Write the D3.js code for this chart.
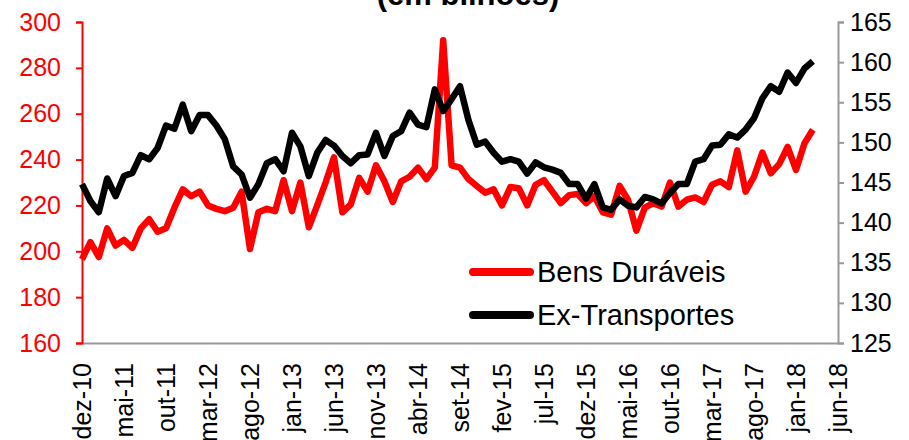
<!DOCTYPE html>
<html>
<head>
<meta charset="utf-8">
<script src="https://cdn.jsdelivr.net/npm/d3@7"></script>
<style>
  body { margin: 0; background: #fff; }
  svg { display: block; font-family: Arial, "Liberation Sans", sans-serif; }
</style>
</head>
<body>
<svg id="chart" width="909" height="440"></svg>
<script>
// monthly series, dez-10 .. mar-18
const bensDuraveis = [
  196.5, 204, 197.5, 210, 202.5, 205, 201.5, 210, 214, 208.5, 210, 219,
  227, 224, 226, 220, 218.5, 217.5, 219, 226, 201, 217, 218.5, 217.5,
  231, 217.5, 230, 210.5, 220, 230, 241, 217, 220.5, 232, 226, 237.5,
  230.5, 221.5, 230.5, 232.5, 236.5, 231.5, 236.5, 292, 237.5, 236.5, 231.5, 228.5,
  225.5, 227, 220, 228, 227.5, 220, 229, 231, 226, 221, 224.5, 225,
  221, 224, 217, 216, 228.5, 222.5, 209, 219, 221, 219.5, 230, 219.5,
  222.5, 223.5, 221.5, 229, 230.5, 228, 244, 226, 232.5, 243, 234, 238,
  245.5, 235.5, 247, 253
];
const exTransportes = [
  144.8, 142.7, 141.3, 145.5, 143.3, 145.8, 146.2, 148.4, 147.9, 149.3, 152.1, 151.7,
  154.7, 151.4, 153.4, 153.4, 152.1, 150.4, 147.0, 146.0, 143.1, 144.8, 147.4, 147.9,
  146.4, 151.2, 149.5, 145.8, 148.7, 150.3, 149.6, 148.3, 147.4, 148.4, 148.5, 151.2,
  148.3, 150.8, 151.4, 153.7, 152.2, 151.9, 156.6, 153.9, 155.4, 157.0, 152.8, 149.7,
  150.1, 148.7, 147.6, 147.9, 147.6, 146.1, 147.5, 146.9, 146.6, 146.2, 144.8, 144.8,
  143.0, 144.8, 141.9, 141.6, 142.9, 142.1, 141.9, 143.2, 142.9, 142.4, 143.7, 144.8,
  144.8, 147.6, 147.9, 149.6, 149.7, 151.0, 150.6, 151.6, 153.0, 155.5, 157.0, 156.3,
  158.7, 157.4, 159.2, 160.1
];
// one label every 5 months
const tickLabels = ["dez-10", "mai-11", "out-11", "mar-12", "ago-12", "jan-13", "jun-13",
  "nov-13", "abr-14", "set-14", "fev-15", "jul-15", "dez-15", "mai-16", "out-16",
  "mar-17", "ago-17", "jan-18", "jun-18"];
const leftTicks = [160, 180, 200, 220, 240, 260, 280, 300];
const rightTicks = [125, 130, 135, 140, 145, 150, 155, 160, 165];
const seriesNames = ["Bens Duráveis", "Ex-Transportes"];
const colors = ["#ff0000", "#000000"];

const svg = d3.select("#chart");
const margin = { top: 22, right: 71, bottom: 97, left: 82 };
const W = 909, H = 440;

const x = d3.scaleLinear()
  .domain([0, (tickLabels.length - 1) * 5])
  .range([margin.left, W - margin.right]);
const yL = d3.scaleLinear().domain([160, 300]).range([H - margin.bottom, margin.top]);
const yR = d3.scaleLinear().domain([125, 165]).range([H - margin.bottom, margin.top]);

// title (mostly cropped above the frame)
svg.append("text")
  .attr("x", 468).attr("y", 5)
  .attr("text-anchor", "middle")
  .attr("font-size", 31).attr("font-weight", "bold")
  .text("(em bilhões)");

// bottom axis
const xAxis = svg.append("g")
  .attr("transform", `translate(0,${H - margin.bottom})`)
  .call(d3.axisBottom(x)
    .tickValues(tickLabels.map((d, i) => i * 5))
    .tickFormat((d, i) => tickLabels[i])
    .tickSize(0)
    .tickPadding(0));
xAxis.select(".domain").attr("stroke", "#999").attr("stroke-width", 2);
xAxis.selectAll("text")
  .attr("font-size", 25)
  .attr("fill", "#000")
  .attr("text-anchor", "end")
  .attr("transform", "rotate(-90)")
  .attr("x", -20)
  .attr("y", 0)
  .attr("dy", "0.35em");

// left axis (red)
const leftAxis = svg.append("g")
  .attr("transform", `translate(${margin.left},0)`)
  .call(d3.axisLeft(yL).tickValues(leftTicks).tickSize(6).tickPadding(15).tickSizeOuter(6));
leftAxis.select(".domain").attr("stroke", "#ff0000").attr("stroke-width", 2);
leftAxis.selectAll(".tick line").attr("stroke", "#ff0000").attr("stroke-width", 2);
leftAxis.selectAll("text").attr("font-size", 25).attr("fill", "#ff0000");

// right axis (grey line, black labels)
const rightAxis = svg.append("g")
  .attr("transform", `translate(${W - margin.right},0)`)
  .call(d3.axisRight(yR).tickValues(rightTicks).tickSize(6).tickPadding(6).tickSizeOuter(6));
rightAxis.select(".domain").attr("stroke", "#999").attr("stroke-width", 2);
rightAxis.selectAll(".tick line").attr("stroke", "#999").attr("stroke-width", 2);
rightAxis.selectAll("text").attr("font-size", 25).attr("fill", "#000");

// lines
const lineL = d3.line().x((d, i) => x(i)).y(d => yL(d));
const lineR = d3.line().x((d, i) => x(i)).y(d => yR(d));

svg.append("path")
  .datum(bensDuraveis)
  .attr("d", lineL)
  .attr("fill", "none")
  .attr("stroke", colors[0])
  .attr("stroke-width", 6.5)
  .attr("stroke-linejoin", "round");

svg.append("path")
  .datum(exTransportes)
  .attr("d", lineR)
  .attr("fill", "none")
  .attr("stroke", colors[1])
  .attr("stroke-width", 6.5)
  .attr("stroke-linejoin", "round");

// legend
const legend = svg.append("g").attr("transform", "translate(473,272)");
seriesNames.forEach((name, i) => {
  const g = legend.append("g").attr("transform", `translate(0,${i * 43})`);
  g.append("line")
    .attr("x1", 0).attr("x2", 57)
    .attr("stroke", colors[i])
    .attr("stroke-width", 8)
    .attr("stroke-linecap", "round");
  g.append("text")
    .attr("x", 64).attr("dy", "0.35em")
    .attr("font-size", 29)
    .attr("fill", "#000")
    .text(name);
});
</script>
</body>
</html>
